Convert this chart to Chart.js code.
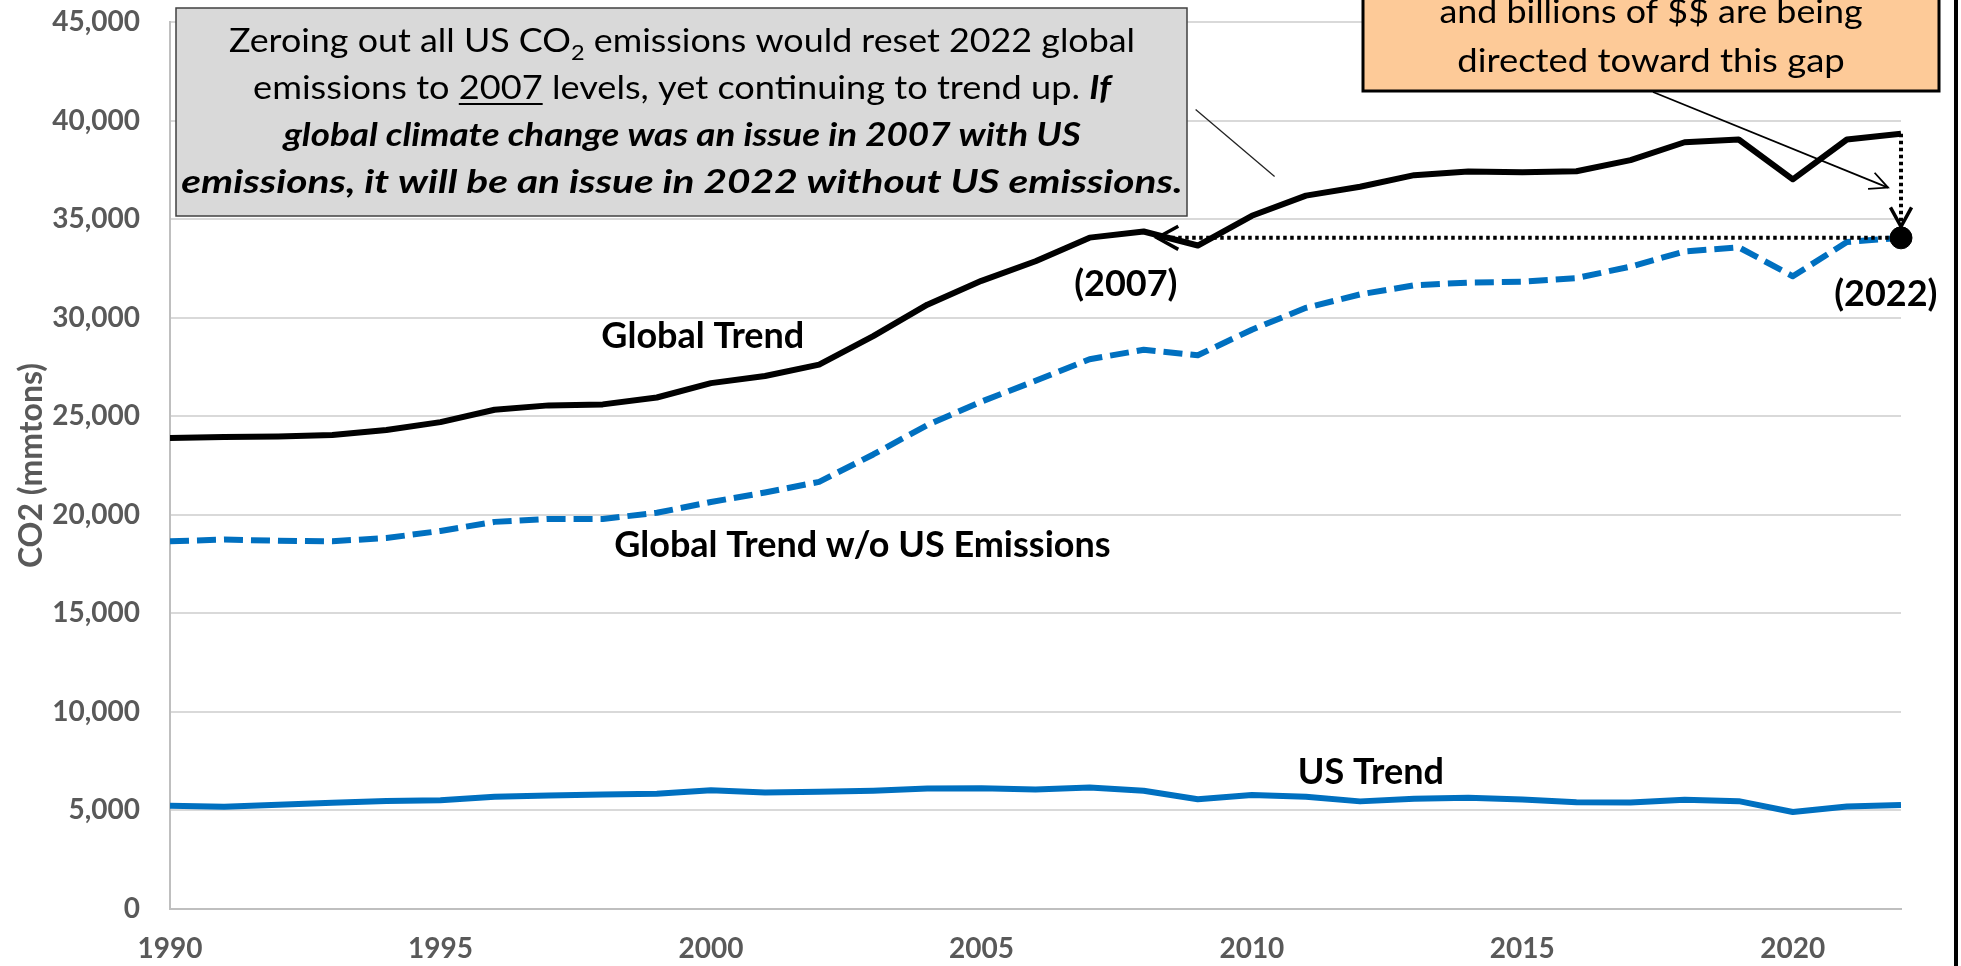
<!DOCTYPE html>
<html>
<head>
<meta charset="utf-8">
<title>Global vs US CO2 emissions</title>
<script src="https://cdn.jsdelivr.net/npm/chart.js@4.4.1/dist/chart.umd.min.js"></script>
<style>
  html, body { margin: 0; padding: 0; background: #fff; }
</style>
</head>
<body>
<canvas id="co2-chart" width="1961" height="966"></canvas>
<script>
const years = [1990, 1991, 1992, 1993, 1994, 1995, 1996, 1997, 1998, 1999,
               2000, 2001, 2002, 2003, 2004, 2005, 2006, 2007, 2008, 2009,
               2010, 2011, 2012, 2013, 2014, 2015, 2016, 2017, 2018, 2019,
               2020, 2021, 2022];
const globalTrend = [23900, 23950, 23970, 24050, 24300, 24700, 25330, 25550, 25600, 25950,
                     26680, 27040, 27620, 29060, 30660, 31870, 32860, 34060, 34370, 33660,
                     35170, 36190, 36640, 37230, 37420, 37380, 37430, 37990, 38900, 39040,
                     37020, 39040, 39330];
const globalWithoutUs = [18660, 18740, 18680, 18660, 18820, 19180, 19640, 19790, 19790, 20100,
                         20650, 21130, 21670, 23060, 24550, 25740, 26800, 27890, 28370, 28090,
                         29390, 30500, 31180, 31640, 31780, 31820, 32010, 32590, 33360, 33570,
                         32100, 33840, 34050];
const usTrend = [5240, 5190, 5290, 5390, 5480, 5520, 5690, 5760, 5810, 5850,
                 6030, 5910, 5950, 6000, 6110, 6130, 6060, 6170, 6000, 5570,
                 5780, 5690, 5460, 5590, 5640, 5560, 5420, 5400, 5540, 5470,
                 4920, 5200, 5280];
const xTickYears = [1990, 1995, 2000, 2005, 2010, 2015, 2020];

const FONT = 'Lato, "Noto Sans", sans-serif';
const last = years.length - 1;

function toPoints(values) {
    return years.map((yr, i) => ({ x: yr, y: values[i] }));
}

function arrowHead(ctx, fromX, fromY, tipX, tipY, len, spread) {
    const a = Math.atan2(tipY - fromY, tipX - fromX);
    ctx.setLineDash([]);
    ctx.beginPath();
    ctx.moveTo(tipX - len * Math.cos(a - spread), tipY - len * Math.sin(a - spread));
    ctx.lineTo(tipX, tipY);
    ctx.lineTo(tipX - len * Math.cos(a + spread), tipY - len * Math.sin(a + spread));
    ctx.stroke();
}

// one centred line made of differently styled pieces, widened by sx
function drawRichLine(ctx, runs, cx, baseline, sx) {
    let total = 0;
    runs.forEach(r => {
        ctx.font = r.font;
        r.w = ctx.measureText(r.text).width * sx;
        total += r.w;
    });
    let cur = cx - total / 2;
    runs.forEach(r => {
        ctx.save();
        ctx.font = r.font;
        ctx.translate(cur, baseline + (r.shift || 0));
        ctx.scale(sx, 1);
        ctx.fillText(r.text, 0, 0);
        ctx.restore();
        if (r.underline)
            ctx.fillRect(cur, baseline + 4, r.w, 2);
        cur += r.w;
    });
}

const notesPlugin = {
    id: 'notes',
    afterDraw(chart) {
        const { ctx, scales: { x, y } } = chart;
        const px = v => x.getPixelForValue(v);
        const py = v => y.getPixelForValue(v);
        const regular = `32px ${FONT}`;
        const boldItalic = `italic bold 32px ${FONT}`;
        const sub = `21px ${FONT}`;
        const target = globalWithoutUs[last];

        ctx.save();
        ctx.lineCap = 'butt';

        // dotted level line back to where the global line sat at that value
        ctx.strokeStyle = '#000';
        ctx.lineWidth = 4;
        ctx.setLineDash([3.5, 3.5]);
        ctx.beginPath();
        ctx.moveTo(px(2008.25), py(target));
        ctx.lineTo(px(years[last]), py(target));
        ctx.stroke();
        ctx.lineWidth = 3.5;
        arrowHead(ctx, px(2009), py(target), px(2008.25), py(target), 24, 0.5);

        // dotted drop from the 2022 global value to the dot
        ctx.lineWidth = 4;
        ctx.setLineDash([3.5, 3.5]);
        ctx.beginPath();
        ctx.moveTo(px(years[last]), py(globalTrend[last]));
        ctx.lineTo(px(years[last]), py(34620));
        ctx.stroke();
        ctx.lineWidth = 3.5;
        arrowHead(ctx, px(years[last]), py(36000), px(years[last]), py(34620), 22, 0.5);

        // thin leader from the grey note
        ctx.setLineDash([]);
        ctx.lineWidth = 1.3;
        ctx.strokeStyle = '#222';
        ctx.beginPath();
        ctx.moveTo(px(2008.96), py(40560));
        ctx.lineTo(px(2010.42), py(37160));
        ctx.stroke();

        // grey note
        ctx.fillStyle = '#d9d9d9';
        ctx.fillRect(176, 8, 1011, 208);
        ctx.strokeStyle = '#404040';
        ctx.lineWidth = 1.5;
        ctx.strokeRect(176, 8, 1011, 208);

        ctx.fillStyle = '#000';
        ctx.textAlign = 'left';
        ctx.textBaseline = 'alphabetic';
        const noteX = 682;
        drawRichLine(ctx, [
            { text: 'Zeroing out all US CO', font: regular },
            { text: '2', font: sub, shift: 8 },
            { text: ' emissions would reset 2022 global', font: regular }
        ], noteX, 52, 1.12);
        drawRichLine(ctx, [
            { text: 'emissions to ', font: regular },
            { text: '2007', font: regular, underline: true },
            { text: ' levels, yet continuing to trend up. ', font: regular },
            { text: 'If', font: boldItalic }
        ], noteX, 99, 1.13);
        drawRichLine(ctx, [
            { text: 'global climate change was an issue in 2007 with US', font: boldItalic }
        ], noteX, 146, 1.15);
        drawRichLine(ctx, [
            { text: 'emissions, it will be an issue in 2022 without US emissions.', font: boldItalic }
        ], noteX, 193, 1.27);

        // orange note and its arrow into the gap
        ctx.fillStyle = '#fdca98';
        ctx.fillRect(1363, -10, 576, 101);
        ctx.strokeStyle = '#000';
        ctx.lineWidth = 3;
        ctx.strokeRect(1363, -10, 576, 101);
        ctx.fillStyle = '#000';
        drawRichLine(ctx, [{ text: 'and billions of $$ are being', font: regular }], 1651, 23, 1.12);
        drawRichLine(ctx, [{ text: 'directed toward this gap', font: regular }], 1651, 72, 1.14);

        ctx.lineWidth = 1.8;
        ctx.beginPath();
        ctx.moveTo(1653, 92);
        ctx.lineTo(px(2021.76), py(36600));
        ctx.stroke();
        arrowHead(ctx, 1653, 92, px(2021.76), py(36600), 20, 0.45);

        // series and year labels
        ctx.font = `bold 36px ${FONT}`;
        ctx.textAlign = 'center';
        ctx.textBaseline = 'middle';
        ctx.fillText('Global Trend', px(1999.85), py(29040));
        ctx.fillText('Global Trend w/o US Emissions', px(2002.8), py(18430));
        ctx.fillText('US Trend', px(2012.2), py(6950));
        ctx.fillText('(2007)', px(2007.67), py(31680));
        ctx.fillText('(2022)', px(2021.72), py(31170));

        // right frame edge
        ctx.fillRect(chart.width - 7, 0, 4, chart.height);
        ctx.restore();
    }
};

const context = document.getElementById('co2-chart').getContext('2d');
const chart = new Chart(context, {
    type: 'line',
    data: {
        datasets: [
            {
                label: 'Global Trend',
                data: toPoints(globalTrend),
                borderColor: '#000000',
                borderWidth: 6,
                borderJoinStyle: 'round',
                pointRadius: 0
            },
            {
                label: 'Global Trend w/o US Emissions',
                data: toPoints(globalWithoutUs),
                borderColor: '#0070c0',
                borderWidth: 6,
                borderDash: [19, 8],
                borderJoinStyle: 'round',
                pointRadius: 0
            },
            {
                label: 'US Trend',
                data: toPoints(usTrend),
                borderColor: '#0070c0',
                borderWidth: 6,
                borderJoinStyle: 'round',
                pointRadius: 0
            },
            {
                label: '2022 without US',
                type: 'scatter',
                data: [{ x: years[last], y: globalWithoutUs[last] }],
                pointRadius: 11,
                backgroundColor: '#000000',
                borderColor: '#000000',
                clip: false,
                order: -1
            }
        ]
    },
    options: {
        responsive: false,
        animation: false,
        events: [],
        layout: {
            padding: { left: 0, right: 60, top: 22, bottom: 0 }
        },
        plugins: {
            legend: { display: false },
            tooltip: { enabled: false }
        },
        scales: {
            x: {
                type: 'linear',
                min: 1990,
                max: 2022,
                afterBuildTicks: scale => {
                    scale.ticks = xTickYears.map(v => ({ value: v }));
                },
                afterFit: scale => {
                    scale.height = 57;
                },
                ticks: {
                    callback: v => String(v),
                    color: '#595959',
                    font: { family: FONT, size: 28, weight: 'bold' },
                    padding: 15,
                    maxRotation: 0,
                    autoSkip: false
                },
                grid: { display: false },
                border: { display: true, color: '#bfbfbf', width: 2 }
            },
            y: {
                min: 0,
                max: 45000,
                afterFit: scale => {
                    scale.width = 170;
                },
                ticks: {
                    stepSize: 5000,
                    callback: v => v.toLocaleString('en-US'),
                    color: '#595959',
                    font: { family: FONT, size: 28, weight: 'bold' },
                    padding: 0
                },
                // invisible tick marks give the labels their gap from the axis
                grid: { color: '#d9d9d9', lineWidth: 2, drawTicks: true, tickLength: 30, tickColor: 'rgba(0,0,0,0)' },
                border: { display: true, color: '#bfbfbf', width: 2 },
                title: {
                    display: true,
                    text: 'CO2 (mmtons)',
                    color: '#595959',
                    font: { family: FONT, size: 32, weight: 'bold' },
                    padding: { top: 12, bottom: 0 }
                }
            }
        }
    },
    plugins: [notesPlugin]
});
</script>
</body>
</html>
